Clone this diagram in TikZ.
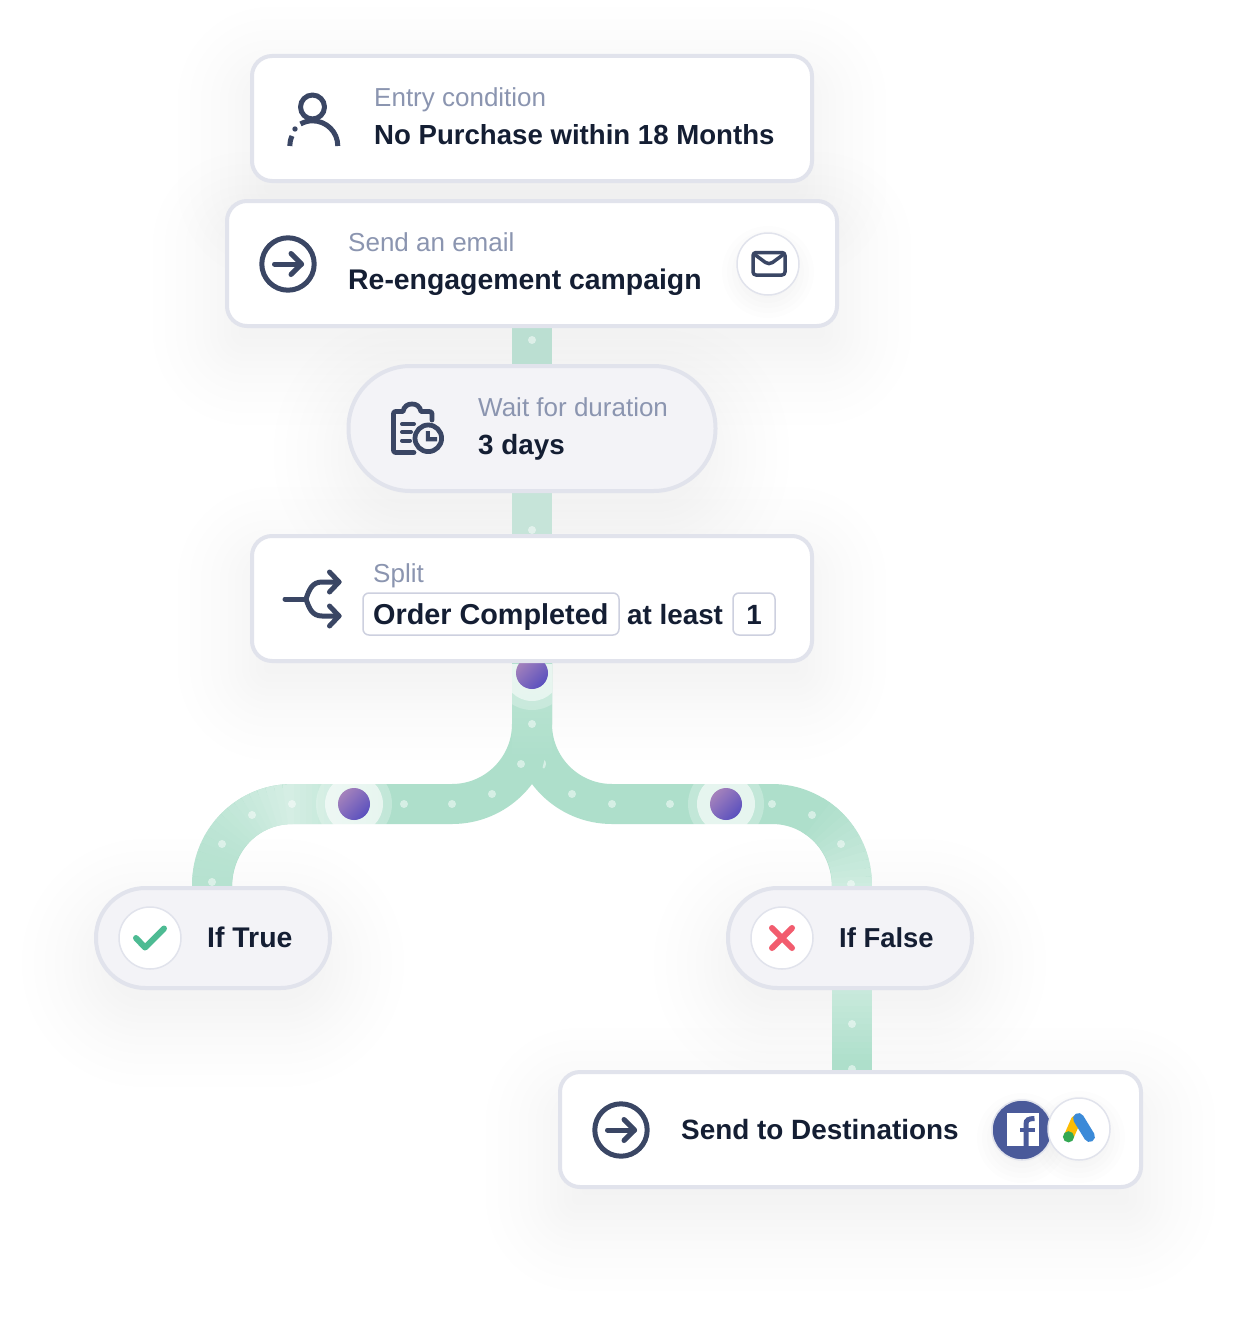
\documentclass[tikz,border=0pt]{standalone}
\usepackage{fontspec}
\setmainfont{Liberation Sans}
\usetikzlibrary{calc}
\definecolor{trackc}{HTML}{AEDFCB}
\definecolor{stubA}{HTML}{BBDFD2}
\definecolor{stubB}{HTML}{C6E4D9}
\definecolor{edgec}{HTML}{E1E3EC}
\definecolor{pillc}{HTML}{F3F3F7}
\definecolor{inkc}{HTML}{141E33}
\definecolor{mutedc}{HTML}{8B95B0}
\definecolor{iconc}{HTML}{3A4664}
\definecolor{tagc}{HTML}{CDD0DF}
\definecolor{dotA}{HTML}{A482BC}
\definecolor{dotB}{HTML}{5A50BE}
\definecolor{fbc}{HTML}{4A5A9A}
\definecolor{shadec}{HTML}{101030}
\pgfdeclarelayer{shadowlayer}
\pgfdeclarelayer{tracklayer}
\pgfsetlayers{shadowlayer,tracklayer,main}
\tikzset{
  card/.style={draw=edgec,line width=4pt,fill=white,rounded corners=20pt,inner sep=0pt,outer sep=0pt},
  pill/.style={draw=edgec,line width=4pt,fill=pillc,inner sep=0pt,outer sep=0pt},
  track/.style={line width=40pt,draw=trackc},
  heading/.style={anchor=base west,inner sep=0pt,text=mutedc,font=\fontsize{#1}{30}\selectfont},
  label/.style={anchor=base west,inner sep=0pt,text=inkc,font=\fontsize{#1}{30}\selectfont\bfseries},
  tag/.style={draw=tagc,line width=1.5pt,rounded corners=6pt,inner sep=0pt,outer sep=0pt,fill=white},
  badge/.style={circle,draw=edgec,line width=1.5pt,fill=white,inner sep=0pt,outer sep=0pt,minimum size=62pt},
  icon/.style={draw=iconc,line width=5pt,line cap=round,line join=round},
  speck/.style={fill=white,fill opacity=.5},
  halo/.style={fill=white,fill opacity=#1},
  gem/.style={shading=axis,top color=dotA,bottom color=dotB,shading angle=45}
}
% x1 y1 x2 y2 radius shift
\newcommand{\softshadow}[6]{%
  \foreach \e in {-24,-14,-6,1,8,15,22,30,39,49,60,72}{%
    \pgfmathsetmacro{\rr}{max(3,#5+\e)}%
    \fill[shadec,fill opacity=.0042,rounded corners=\rr pt]
      ({#1-\e},{#2-\e+#6}) rectangle ({#3+\e},{#4+\e+#6});
  }%
}
\begin{document}
\begin{tikzpicture}[x=1pt,y=-1pt]
\useasboundingbox (0,0) rectangle (1235,1322);
\begin{pgfonlayer}{shadowlayer}
  \fill[white] (0,0) rectangle (1235,1322);
  \softshadow{250}{54}{814}{183}{20}{25}
  \softshadow{225}{199}{839}{328}{20}{25}
  \softshadow{346}{364}{717}{493}{60}{25}
  \softshadow{250}{534}{814}{663}{20}{25}
  \softshadow{94}{886}{332}{990}{50}{25}
  \softshadow{726}{886}{974}{990}{50}{25}
  \softshadow{558}{1070}{1143}{1189}{20}{30}
\end{pgfonlayer}

% ---------- nodes
\node[card,minimum width=560pt,minimum height=125pt] (entry) at (532,118.5) {};
\node[card,minimum width=610pt,minimum height=125pt] (send) at (532,263.5) {};
\node[pill,rounded corners=62pt,minimum width=367pt,minimum height=125pt] (wait) at (532,428.5) {};
\node[card,minimum width=560pt,minimum height=125pt] (split) at (532,598.5) {};
\node[pill,rounded corners=49.5pt,minimum width=234pt,minimum height=100pt] (iftrue) at (213,938) {};
\node[pill,rounded corners=49.5pt,minimum width=244pt,minimum height=100pt] (iffalse) at (850,938) {};
\node[card,minimum width=581pt,minimum height=115pt] (dest) at (850.5,1129.5) {};

\coordinate (fork) at (532,724);
\coordinate (trueIn) at (212,888);
\coordinate (falseIn) at (852,888);
\coordinate (falseOut) at (852,988);
\coordinate (destIn) at (852,1072);

% ---------- tracks
\begin{pgfonlayer}{tracklayer}
  \draw[track,draw=stubA] (send.south) -- (wait.north);
  \draw[track,draw=stubB] (wait.south) -- (split.north);
  \draw[track] (split.south) -- (fork) .. controls (532,768.2) and (496.2,804) .. (452,804)
     -- (292,804) .. controls (247.8,804) and (212,839.8) .. (trueIn);
  \draw[track] (split.south) -- (fork) .. controls (532,768.2) and (567.8,804) .. (612,804)
     -- (772,804) .. controls (816.2,804) and (852,839.8) .. (falseIn);
  \draw[track] (falseOut) -- (destIn);
  % fades along the tracks
  \foreach \y in {664,670,...,754}{
    \pgfmathsetmacro{\p}{82+18*(\y-664)/90}
    \pgfmathsetmacro{\q}{\y+7}
    \draw[line width=40pt,draw={trackc!\p!white}] (532,\y) -- (532,\q);
  }
  \foreach \x in {390,384,...,294}{
    \pgfmathsetmacro{\p}{100-48*(390-\x)/96}
    \pgfmathsetmacro{\q}{\x-7}
    \draw[line width=40pt,draw={trackc!\p!white}] (\x,804) -- (\q,804);
  }
  \foreach \t in {0,5,...,85}{
    \pgfmathsetmacro{\p}{52+38*sin(\t)}
    \draw[line width=40pt,draw={trackc!\p!white}]
      ({292-80*sin(\t)},{884-80*cos(\t)}) -- ({292-80*sin(\t+6)},{884-80*cos(\t+6)});
  }
  \draw[line width=40pt,draw={trackc!90!white}] (212,883) -- (trueIn);
  \foreach \t in {30,35,...,85}{
    \pgfmathsetmacro{\p}{100-40*(\t-30)/60}
    \draw[line width=40pt,draw={trackc!\p!white}]
      ({772+80*sin(\t)},{884-80*cos(\t)}) -- ({772+80*sin(\t+6)},{884-80*cos(\t+6)});
  }
  \draw[line width=40pt,draw={trackc!60!white}] (852,883) -- (falseIn);
  \foreach \y in {988,994,...,1060}{
    \pgfmathsetmacro{\p}{68+32*(\y-988)/72}
    \pgfmathsetmacro{\q}{\y+7}
    \draw[line width=40pt,draw={trackc!\p!white}] (852,\y) -- (852,\q);
  }
  \draw[track] (852,1060) -- (destIn);
  % halos
  \begin{scope}
    \clip (512,664) rectangle (552,730);
    \fill[halo=.25] (532,673) circle[radius=37];
    \fill[halo=.55] (532,673) circle[radius=28];
  \end{scope}
  \begin{scope}
    \clip (300,784) rectangle (780,824);
    \fill[halo=.25] (354,804) circle[radius=38];
    \fill[halo=.6] (354,804) circle[radius=29];
    \fill[halo=.25] (726,804) circle[radius=38];
    \fill[halo=.6] (726,804) circle[radius=29];
  \end{scope}
  % specks
  \foreach \a/\b in {532/340,532/530,532/724,521/764,404/804,452/804,492/794,572/794,612/804,670/804,772/804,812/815,841/844,851/884,292/804,252/815,222/844,212/882,852/1024,852/1069}
    \fill[speck] (\a,\b) circle[radius=4];
  \fill[speck] (544.5,760) .. controls (546.5,762) and (546.5,766) .. (544,768.5) -- (542.6,767.5) -- cycle;
  % moving dots
  \shade[gem] (532,673) circle[radius=16];
  \shade[gem] (354,804) circle[radius=16];
  \shade[gem] (726,804) circle[radius=16];
\end{pgfonlayer}

% ---------- texts
\node[heading=26] (t1a) at (374,106) {Entry condition};
\node[label=27.6] (t1b) at (374,144) {No Purchase within 18 Months};
\node[heading=26] (t2a) at (348,251) {Send an email};
\node[label=28.4] (t2b) at (348,289) {Re-engagement campaign};
\node[heading=26] (t3a) at (478,416) {Wait for duration};
\node[label=27.8] (t3b) at (478,454) {3 days};
\node[heading=26] (t4a) at (373,582) {Split};
\node[tag,minimum width=256pt,minimum height=42pt] (tag1) at (491,614) {};
\node[tag,minimum width=42pt,minimum height=42pt] (tag2) at (754,614) {};
\node[label=28.8] (t4b) at (373,624) {Order Completed};
\node[label=27.8] (t4c) at (627,624) {at least};
\node[label=27.8,anchor=base] (t4d) at (754,624) {1};
\node[label=28.4] (t5) at (207,947) {If True};
\node[label=27.4] (t6) at (839,947) {If False};
\node[label=27.9] (t7) at (681,1139) {Send to Destinations};

% ---------- person icon
\draw[icon] (312.5,107) circle[radius=12];
\draw[icon,line cap=butt] (337.8,146) .. controls (337.8,132) and (326.5,120.8) .. (312.5,120.8) .. controls (308,120.8) and (304,122) .. (300.5,124);
\fill[iconc] (295,129) circle[radius=2.7];
\draw[icon,line cap=butt] (289.8,146) .. controls (289.8,143) and (290.4,139.5) .. (292,136);

% ---------- arrow icons
\foreach \cx/\cy in {288/264,621/1130}{
  \draw[icon] (\cx,\cy) circle[radius=26.2];
  \draw[icon] ({\cx-13.5},\cy) -- ({\cx+13.5},\cy);
  \draw[icon] ({\cx+3},{\cy-10.5}) -- ({\cx+13.5},\cy) -- ({\cx+3},{\cy+10.5});
}

% ---------- mail badge
\foreach \e in {-10,-5,...,15}{
  \fill[shadec,fill opacity=.008] (768,272) circle[radius={31+\e}];
}
\node[badge] (mail) at (768,264) {};
\draw[icon,line width=3.5pt,rounded corners=3pt] (753,252.5) rectangle (785,275);
\draw[icon,line width=3.5pt] (754,254) -- (765.5,262.5) .. controls (767.5,264) and (770.5,264) .. (772.5,262.5) -- (784,254);

% ---------- clipboard icon
\draw[icon,line width=4.8pt]
  (414,452.5) -- (396,452.5) .. controls (394,452.5) and (393.5,452) .. (393.5,450)
  -- (393.5,414) .. controls (393.5,412) and (394,411.5) .. (396,411.5) -- (403,411.5)
  .. controls (404,406) and (408,404) .. (412,404) .. controls (416,404) and (420,406) .. (421,411.5)
  -- (429,411.5) .. controls (431,411.5) and (432,412) .. (432,414) -- (432,420);
\draw[icon,line width=4pt] (402,424) -- (414,424);
\draw[icon,line width=4pt] (402,432) -- (411,432);
\draw[icon,line width=4pt] (402,440.5) -- (410,440.5);
\draw[icon,line width=4.8pt] (428.3,438.3) circle[radius=13.3];
\fill[iconc] (425.8,431) -- (429.8,431) -- (429.8,437.2) -- (437,437.2) -- (437,441.4) -- (425.8,441.4) -- cycle;

% ---------- split icon
\draw[icon] (285,599) -- (306,599);
\draw[icon] (306,599) .. controls (309,590) and (312,582) .. (322,582) -- (339,582);
\draw[icon] (306,599) .. controls (309,608) and (312,616) .. (322,616) -- (339,616);
\draw[icon] (329.5,572) -- (339,582) -- (329.5,592);
\draw[icon] (329.5,606) -- (339,616) -- (329.5,626);

% ---------- verdict badges
\node[badge] (okb) at (150,938) {};
\draw[line width=6pt,draw={rgb,255:red,77;green,187;blue,147},line cap=round,line join=round]
  (136,938) -- (145,947.5) -- (164,928.5);
\node[badge] (nob) at (782,938) {};
\draw[line width=6pt,draw={rgb,255:red,242;green,92;blue,110},line cap=round]
  (772,928) -- (792,948) (792,928) -- (772,948);

% ---------- destination badges
\foreach \e in {-10,-5,...,15}{
  \fill[shadec,fill opacity=.006] (1022,1138) circle[radius={30+\e}];
  \fill[shadec,fill opacity=.006] (1079,1137) circle[radius={31+\e}];
}
\node[badge,fill=fbc,minimum size=60pt] (fb) at (1022,1130) {};
\fill[white] (1006.7,1113.3) rectangle (1039,1145.7);
\draw[fbc,line width=5pt] (1026,1146) -- (1026,1124) .. controls (1026,1120) and (1028.5,1118.5) .. (1034.5,1118.5);
\draw[fbc,line width=4.5pt] (1020,1130) -- (1034.5,1130);
\node[badge,minimum size=62pt] (ads) at (1079,1129) {};
\draw[line width=10pt,draw={rgb,255:red,251;green,188;blue,4},line cap=round] (1076,1120) -- (1069,1136);
\draw[line width=11pt,draw={rgb,255:red,59;green,138;blue,216},line cap=round] (1078.5,1118.5) -- (1089.5,1136.5);
\fill[draw=none,fill={rgb,255:red,52;green,168;blue,83}] (1068.5,1136.8) circle[radius=5.6];
\end{tikzpicture}
\end{document}
